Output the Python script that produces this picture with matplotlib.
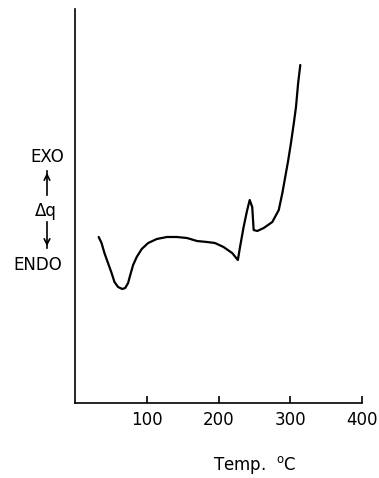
import matplotlib
matplotlib.use("Agg")
import matplotlib.pyplot as plt

# DTA trace (arbitrary heat-flow units)
temp = [33, 37, 41, 46, 51, 55, 60, 66, 70, 74, 77, 81, 86, 93, 102, 114, 128,
        142, 156, 170, 184, 195, 207, 219, 227, 230, 235, 240, 243.5, 247, 249,
        254, 263, 275, 284, 289, 293, 297, 301, 305, 308, 311, 314]
dq = [166, 160, 150, 140, 130, 121, 116, 114, 115, 120, 128, 138, 146, 154, 160,
      164, 166, 166, 165, 162, 161, 160, 156, 150, 143, 156, 176, 193, 203, 196,
      173, 172, 175, 181, 193, 210, 226, 242, 260, 280, 296, 320, 338]
xticks = [100, 200, 300, 400]

fig = plt.figure(figsize=(3.79, 4.78), dpi=100)
ax = fig.add_axes([75 / 379, 75 / 478, 287 / 379, 394 / 478])

ax.plot(temp, dq, color="black", lw=1.6, solid_capstyle="round", solid_joinstyle="round")

ax.set_xlim(0, 400)
ax.set_ylim(0, 394)
ax.spines["top"].set_visible(False)
ax.spines["right"].set_visible(False)
ax.spines["left"].set_linewidth(1.2)
ax.spines["bottom"].set_linewidth(1.2)
ax.set_yticks([])
ax.set_xticks(xticks)
ax.set_xticklabels([str(t) for t in xticks], fontsize=12)
ax.tick_params(axis="x", direction="in", length=5, width=1.2, pad=6)

# y-axis label made of text and arrows
fig.text(47 / 379, 1 - 157 / 478, "EXO", ha="center", va="center", fontsize=12)
fig.text(46 / 379, 1 - 211 / 478, "Δq", ha="center", va="center", fontsize=12)
fig.text(38 / 379, 1 - 265 / 478, "ENDO", ha="center", va="center", fontsize=12)
fig.add_artist(plt.Line2D([47 / 379, 47 / 379], [1 - 195 / 478, 1 - 171 / 478], color="black", lw=1.2))
fig.add_artist(plt.Line2D([47 / 379, 47 / 379], [1 - 222 / 478, 1 - 248 / 478], color="black", lw=1.2))
ax.annotate("", xy=(47 / 379, 1 - 170 / 478), xytext=(47 / 379, 1 - 180 / 478),
            xycoords="figure fraction",
            arrowprops=dict(arrowstyle="->", color="black", lw=1.2))
ax.annotate("", xy=(47 / 379, 1 - 249 / 478), xytext=(47 / 379, 1 - 239 / 478),
            xycoords="figure fraction",
            arrowprops=dict(arrowstyle="->", color="black", lw=1.2))

fig.text(255 / 379, 1 - 465 / 478, "Temp.  $^{\\mathrm{o}}$C", ha="center", va="center", fontsize=12)

fig.savefig("out.png", dpi=100)
